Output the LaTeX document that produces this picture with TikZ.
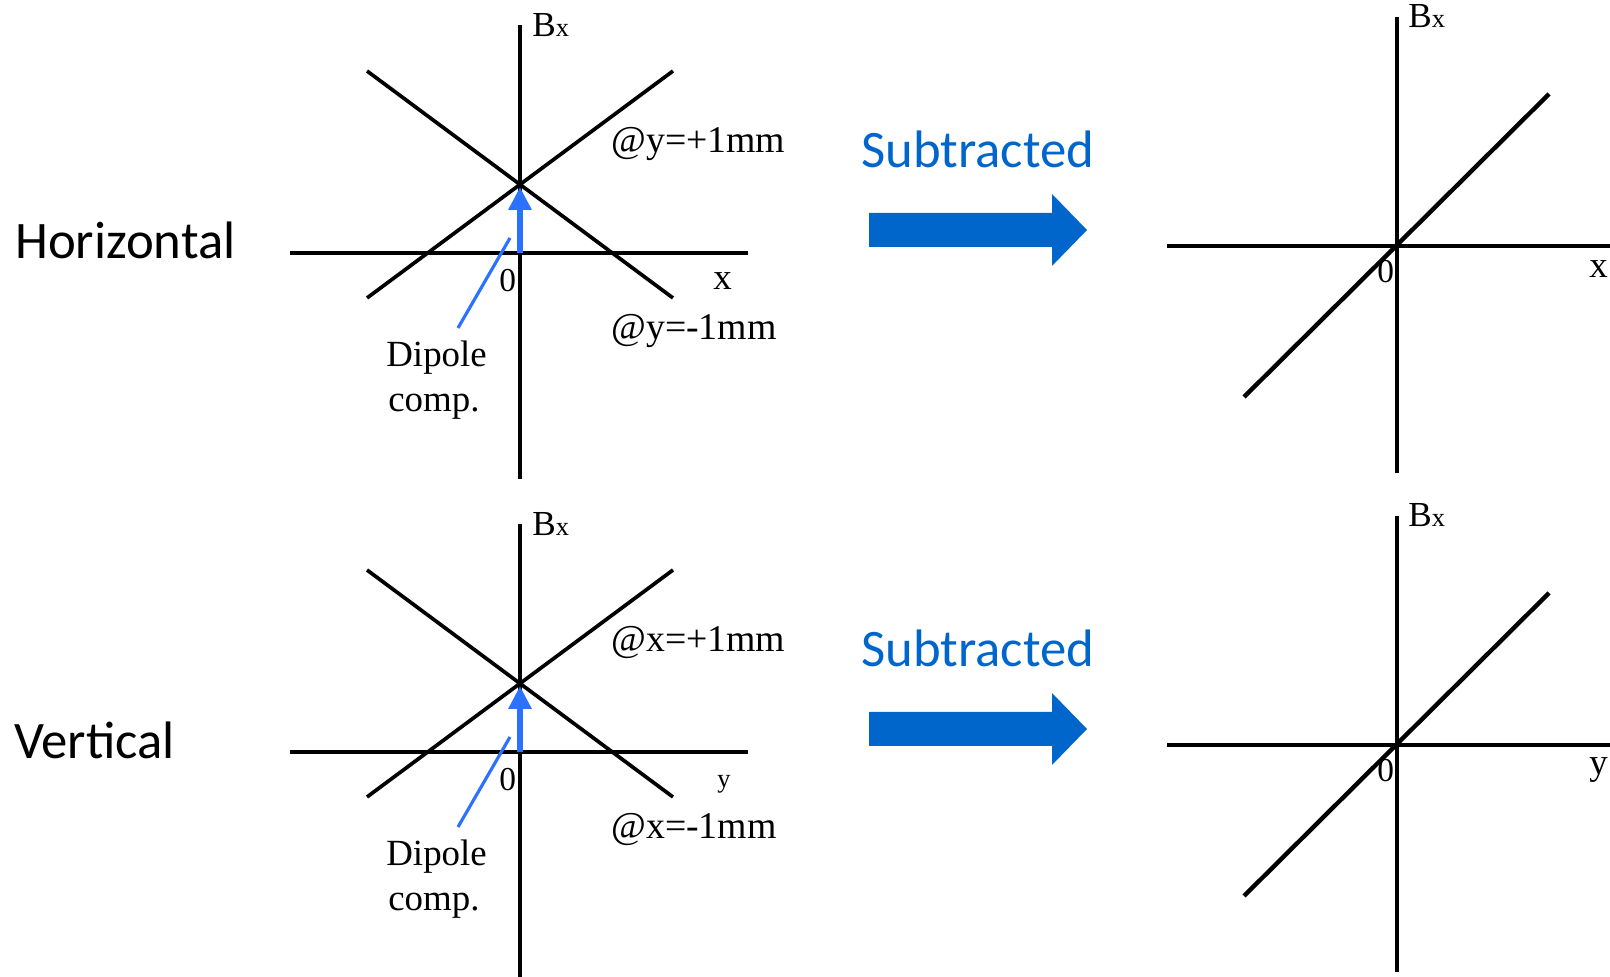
\documentclass[tikz,border=0pt]{standalone}
\usepackage{fontspec}
\setmainfont{Liberation Serif}
\newfontfamily\calibri{Carlito}
\usetikzlibrary{arrows.meta}
\definecolor{subblue}{HTML}{0066CC}
\definecolor{dipblue}{HTML}{2A72FF}

\begin{document}
\begin{tikzpicture}[
  axis/.style={line width=1.9pt},
  field/.style={line width=2.1pt},
  fit/.style={line width=2.5pt},
  lbl/.style={anchor=base west, inner sep=0pt},
  bigtxt/.style={lbl, font=\calibri\fontsize{30}{31}\selectfont},
  serif/.style={lbl, font=\fontsize{20}{22}\selectfont},
  atlbl/.style={lbl, font=\fontsize{21.5}{23}\selectfont},
  dipole/.style={dipblue, line width=3.8pt, -{Triangle[width=12.5pt,length=13pt]}},
  leader/.style={dipblue, line width=1.8pt}]
\useasboundingbox (0,0) rectangle (32.200,19.540);
\begin{scope}[shift={(0.000,9.980)}]
\node[bigtxt] (hor) at (0.300,4.380) {Horizontal};
\draw[axis] (10.400,9.060) -- (10.400,-0.020);
\draw[axis] (5.800,4.500) -- (14.960,4.500);
\draw[field] (7.340,8.140) -- (13.460,3.600);
\draw[field] (7.340,3.600) -- (13.460,8.140);
\coordinate (orgt) at (10.400,4.500);
\coordinate (tipt) at (10.400,5.820);
\draw[dipole] (orgt) -- (tipt);
\node[serif] (bxt) at (10.640,8.820) {B{\fontsize{15}{15}\selectfont x}};
\node[serif, font=\fontsize{19}{21}\selectfont] (zerot) at (9.980,3.720) {0};
\node[serif, font=\fontsize{21}{23}\selectfont] (xt) at (14.260,3.760) {x};
\node[atlbl] (plust) at (12.220,6.500) {@y=+1mm};
\node[atlbl] (minust) at (12.220,2.760) {@y=-1mm};
\node[serif, font=\fontsize{21}{23}\selectfont] (dipt) at (7.720,2.220) {Dipole};
\node[serif, font=\fontsize{21}{23}\selectfont] (compt) at (7.760,1.320) {comp.};
\coordinate (leadat) at (9.160,3.000);
\coordinate (leadbt) at (10.200,4.800);
\draw[leader] (leadat) -- (leadbt);
\node[bigtxt, text=subblue] (subt) at (17.220,6.200) {Subtracted};
\fill[subblue] (17.380,5.300) -- (21.040,5.300) -- (21.040,5.680) -- (21.740,4.960)
  -- (21.040,4.240) -- (21.040,4.620) -- (17.380,4.620) -- cycle;
\draw[axis] (27.940,9.220) -- (27.940,0.100);
\draw[axis] (23.340,4.640) -- (32.300,4.640);
\draw[fit] (24.880,1.620) -- (30.980,7.680);
\node[serif] (bxrt) at (28.160,9.000) {B{\fontsize{15}{15}\selectfont x}};
\node[serif, font=\fontsize{19}{21}\selectfont] (zerort) at (27.540,3.900) {0};
\node[serif, font=\fontsize{21}{23}\selectfont] (xrt) at (31.780,4.000) {x};
\end{scope}
\begin{scope}[shift={(0.000,0.000)}]
\node[bigtxt] (ver) at (0.280,4.360) {Vertical};
\draw[axis] (10.400,9.060) -- (10.400,-0.020);
\draw[axis] (5.800,4.500) -- (14.960,4.500);
\draw[field] (7.340,8.140) -- (13.460,3.600);
\draw[field] (7.340,3.600) -- (13.460,8.140);
\coordinate (orgb) at (10.400,4.500);
\coordinate (tipb) at (10.400,5.820);
\draw[dipole] (orgb) -- (tipb);
\node[serif] (bxb) at (10.640,8.820) {B{\fontsize{15}{15}\selectfont x}};
\node[serif, font=\fontsize{19}{21}\selectfont] (zerob) at (9.980,3.720) {0};
\node[serif, font=\fontsize{15}{17}\selectfont] (yb) at (14.340,3.780) {y};
\node[atlbl] (plusb) at (12.220,6.500) {@x=+1mm};
\node[atlbl] (minusb) at (12.220,2.760) {@x=-1mm};
\node[serif, font=\fontsize{21}{23}\selectfont] (dipb) at (7.720,2.220) {Dipole};
\node[serif, font=\fontsize{21}{23}\selectfont] (compb) at (7.760,1.320) {comp.};
\coordinate (leadab) at (9.160,3.000);
\coordinate (leadbb) at (10.200,4.800);
\draw[leader] (leadab) -- (leadbb);
\node[bigtxt, text=subblue] (subb) at (17.220,6.200) {Subtracted};
\fill[subblue] (17.380,5.300) -- (21.040,5.300) -- (21.040,5.680) -- (21.740,4.960)
  -- (21.040,4.240) -- (21.040,4.620) -- (17.380,4.620) -- cycle;
\draw[axis] (27.940,9.220) -- (27.940,0.100);
\draw[axis] (23.340,4.640) -- (32.300,4.640);
\draw[fit] (24.880,1.620) -- (30.980,7.680);
\node[serif] (bxrb) at (28.160,9.000) {B{\fontsize{15}{15}\selectfont x}};
\node[serif, font=\fontsize{19}{21}\selectfont] (zerorb) at (27.540,3.900) {0};
\node[serif, font=\fontsize{21}{23}\selectfont] (yrb) at (31.780,4.040) {y};
\end{scope}
\end{tikzpicture}
\end{document}
